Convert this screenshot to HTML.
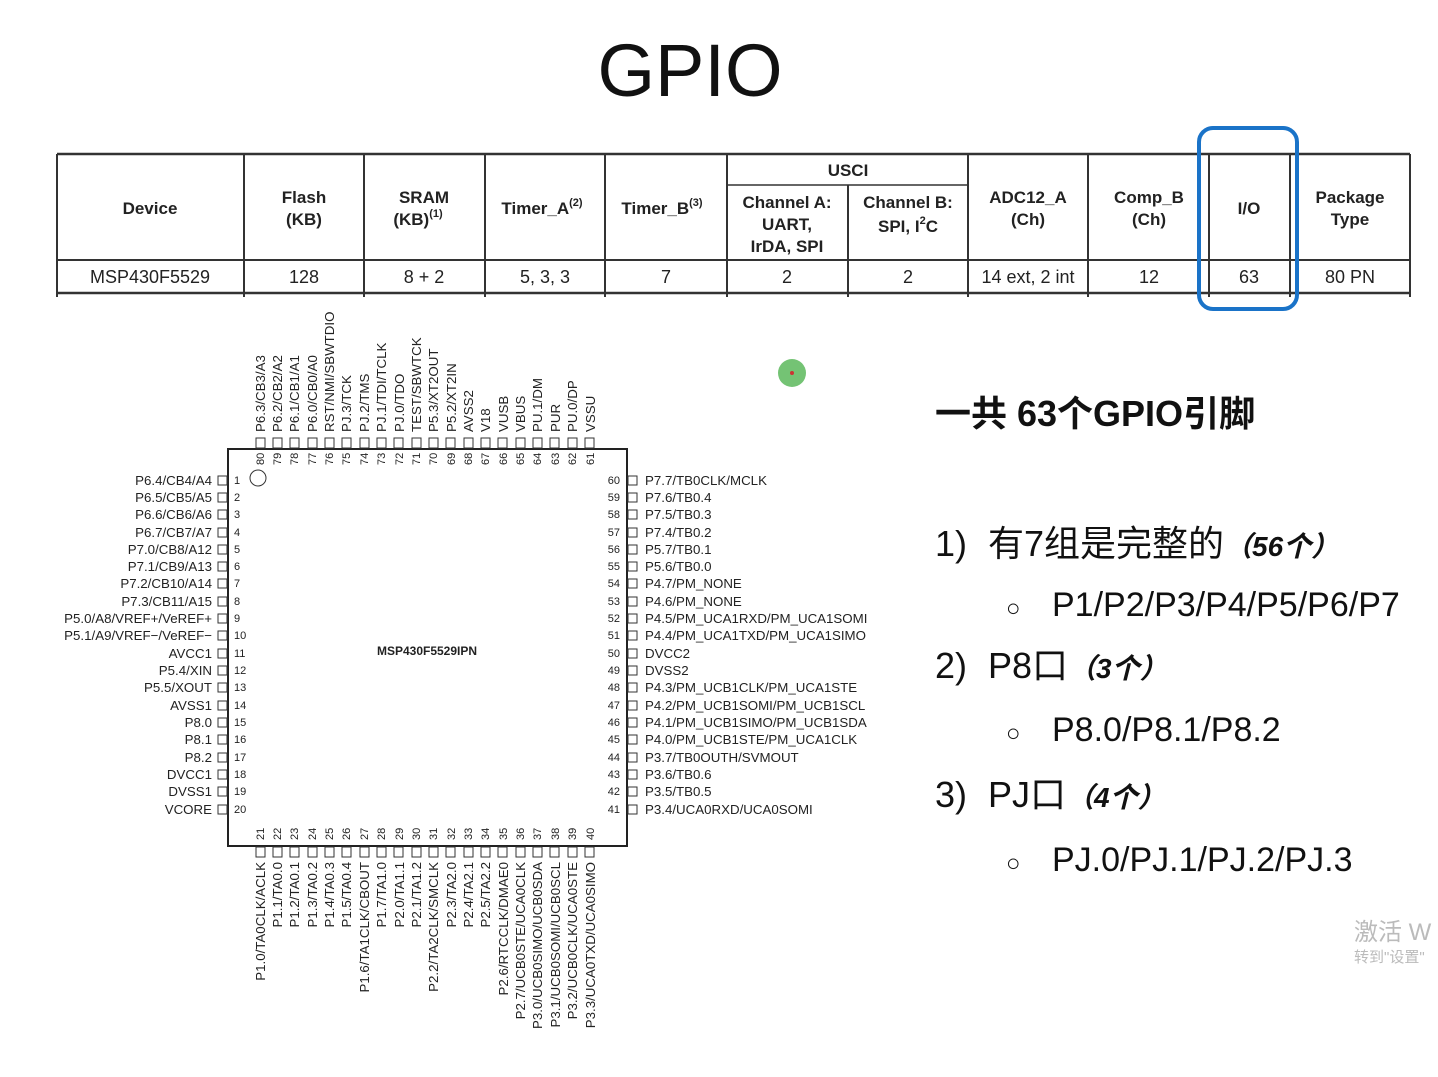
<!DOCTYPE html>
<html><head><meta charset="utf-8"><style>
html,body{margin:0;padding:0;background:#fff;}
svg{display:block;}
.p{font-family:"Liberation Sans",Arial,sans-serif;font-size:13.3px;fill:#222;}
.n{font-family:"Liberation Sans",Arial,sans-serif;font-size:11px;fill:#222;}
.t{font-family:"Liberation Sans",Arial,sans-serif;font-size:17px;fill:#222;font-weight:bold;}
.d{font-family:"Liberation Sans",Arial,sans-serif;font-size:18px;fill:#222;}
.cj{font-family:"Liberation Sans","Noto Sans CJK SC",sans-serif;fill:#111;}
</style></head><body>
<svg width="1438" height="1077" viewBox="0 0 1438 1077" xmlns="http://www.w3.org/2000/svg">
<rect width="1438" height="1077" fill="#fff"/>
<text x="690" y="96" text-anchor="middle" font-family="Liberation Sans,Arial,sans-serif" font-size="74" fill="#111">GPIO</text>

<g stroke="#333" fill="none">
<line x1="57" y1="154" x2="1410" y2="154" stroke-width="2.5"/>
<line x1="57" y1="260" x2="1410" y2="260" stroke-width="2"/>
<line x1="57" y1="293" x2="1410" y2="293" stroke-width="2.5"/>
<line x1="727" y1="185" x2="968" y2="185" stroke-width="1.5"/>
<g stroke-width="2">
<line x1="57" y1="154" x2="57" y2="297"/><line x1="244" y1="154" x2="244" y2="297"/>
<line x1="364" y1="154" x2="364" y2="297"/><line x1="485" y1="154" x2="485" y2="297"/>
<line x1="605" y1="154" x2="605" y2="297"/><line x1="727" y1="154" x2="727" y2="297"/>
<line x1="848" y1="185" x2="848" y2="297"/><line x1="968" y1="154" x2="968" y2="297"/>
<line x1="1088" y1="154" x2="1088" y2="297"/><line x1="1209" y1="154" x2="1209" y2="297"/>
<line x1="1290" y1="154" x2="1290" y2="297"/><line x1="1410" y1="154" x2="1410" y2="297"/>
</g></g>
<text class="t" x="150" y="214" text-anchor="middle">Device</text>
<text class="t" x="304" y="203" text-anchor="middle">Flash</text><text class="t" x="304" y="225" text-anchor="middle">(KB)</text>
<text class="t" x="424" y="203" text-anchor="middle">SRAM</text><text class="t" x="418" y="225" text-anchor="middle">(KB)<tspan font-size="11" dy="-8">(1)</tspan></text>
<text class="t" x="542" y="214" text-anchor="middle">Timer_A<tspan font-size="11" dy="-8">(2)</tspan></text>
<text class="t" x="662" y="214" text-anchor="middle">Timer_B<tspan font-size="11" dy="-8">(3)</tspan></text>
<text class="t" x="848" y="176" text-anchor="middle">USCI</text>
<text class="t" x="787" y="208" text-anchor="middle">Channel A:</text><text class="t" x="787" y="230" text-anchor="middle">UART,</text><text class="t" x="787" y="252" text-anchor="middle">IrDA, SPI</text>
<text class="t" x="908" y="208" text-anchor="middle">Channel B:</text><text class="t" x="908" y="232" text-anchor="middle">SPI, I<tspan font-size="11" dy="-8">2</tspan><tspan dy="8">C</tspan></text>
<text class="t" x="1028" y="203" text-anchor="middle">ADC12_A</text><text class="t" x="1028" y="225" text-anchor="middle">(Ch)</text>
<text class="t" x="1149" y="203" text-anchor="middle">Comp_B</text><text class="t" x="1149" y="225" text-anchor="middle">(Ch)</text>
<text class="t" x="1249" y="214" text-anchor="middle">I/O</text>
<text class="t" x="1350" y="203" text-anchor="middle">Package</text><text class="t" x="1350" y="225" text-anchor="middle">Type</text>
<g class="d" text-anchor="middle">
<text x="150" y="283">MSP430F5529</text><text x="304" y="283">128</text><text x="424" y="283">8 + 2</text>
<text x="545" y="283">5, 3, 3</text><text x="666" y="283">7</text><text x="787" y="283">2</text>
<text x="908" y="283">2</text><text x="1028" y="283">14 ext, 2 int</text><text x="1149" y="283">12</text>
<text x="1249" y="283">63</text><text x="1350" y="283">80 PN</text></g>
<rect x="1199" y="128" width="98" height="181" rx="14" fill="none" stroke="#1a73c8" stroke-width="4"/>

<circle cx="792" cy="373" r="14" fill="#5cb85c" opacity="0.85"/><circle cx="792" cy="373" r="2" fill="#c33"/>

<rect x="228" y="449" width="399" height="397" fill="none" stroke="#222" stroke-width="2"/>
<circle cx="258" cy="478" r="8" fill="none" stroke="#333"/>
<text x="427" y="655" text-anchor="middle" font-family="Liberation Sans,Arial,sans-serif" font-size="12" font-weight="bold" fill="#222">MSP430F5529IPN</text>
<g fill="#fff" stroke="#333" stroke-width="1">
<rect x="218" y="476" width="9" height="9"/><rect x="218" y="493" width="9" height="9"/><rect x="218" y="510" width="9" height="9"/><rect x="218" y="528" width="9" height="9"/><rect x="218" y="545" width="9" height="9"/><rect x="218" y="562" width="9" height="9"/><rect x="218" y="579" width="9" height="9"/><rect x="218" y="597" width="9" height="9"/><rect x="218" y="614" width="9" height="9"/><rect x="218" y="631" width="9" height="9"/><rect x="218" y="649" width="9" height="9"/><rect x="218" y="666" width="9" height="9"/><rect x="218" y="683" width="9" height="9"/><rect x="218" y="701" width="9" height="9"/><rect x="218" y="718" width="9" height="9"/><rect x="218" y="735" width="9" height="9"/><rect x="218" y="753" width="9" height="9"/><rect x="218" y="770" width="9" height="9"/><rect x="218" y="787" width="9" height="9"/><rect x="218" y="805" width="9" height="9"/>
<rect x="628" y="476" width="9" height="9"/><rect x="628" y="493" width="9" height="9"/><rect x="628" y="510" width="9" height="9"/><rect x="628" y="528" width="9" height="9"/><rect x="628" y="545" width="9" height="9"/><rect x="628" y="562" width="9" height="9"/><rect x="628" y="579" width="9" height="9"/><rect x="628" y="597" width="9" height="9"/><rect x="628" y="614" width="9" height="9"/><rect x="628" y="631" width="9" height="9"/><rect x="628" y="649" width="9" height="9"/><rect x="628" y="666" width="9" height="9"/><rect x="628" y="683" width="9" height="9"/><rect x="628" y="701" width="9" height="9"/><rect x="628" y="718" width="9" height="9"/><rect x="628" y="735" width="9" height="9"/><rect x="628" y="753" width="9" height="9"/><rect x="628" y="770" width="9" height="9"/><rect x="628" y="787" width="9" height="9"/><rect x="628" y="805" width="9" height="9"/>
<rect x="256" y="438" width="9" height="10"/><rect x="273" y="438" width="9" height="10"/><rect x="290" y="438" width="9" height="10"/><rect x="308" y="438" width="9" height="10"/><rect x="325" y="438" width="9" height="10"/><rect x="342" y="438" width="9" height="10"/><rect x="360" y="438" width="9" height="10"/><rect x="377" y="438" width="9" height="10"/><rect x="394" y="438" width="9" height="10"/><rect x="412" y="438" width="9" height="10"/><rect x="429" y="438" width="9" height="10"/><rect x="446" y="438" width="9" height="10"/><rect x="464" y="438" width="9" height="10"/><rect x="481" y="438" width="9" height="10"/><rect x="498" y="438" width="9" height="10"/><rect x="516" y="438" width="9" height="10"/><rect x="533" y="438" width="9" height="10"/><rect x="550" y="438" width="9" height="10"/><rect x="568" y="438" width="9" height="10"/><rect x="585" y="438" width="9" height="10"/>
<rect x="256" y="847" width="9" height="10"/><rect x="273" y="847" width="9" height="10"/><rect x="290" y="847" width="9" height="10"/><rect x="308" y="847" width="9" height="10"/><rect x="325" y="847" width="9" height="10"/><rect x="342" y="847" width="9" height="10"/><rect x="360" y="847" width="9" height="10"/><rect x="377" y="847" width="9" height="10"/><rect x="394" y="847" width="9" height="10"/><rect x="412" y="847" width="9" height="10"/><rect x="429" y="847" width="9" height="10"/><rect x="446" y="847" width="9" height="10"/><rect x="464" y="847" width="9" height="10"/><rect x="481" y="847" width="9" height="10"/><rect x="498" y="847" width="9" height="10"/><rect x="516" y="847" width="9" height="10"/><rect x="533" y="847" width="9" height="10"/><rect x="550" y="847" width="9" height="10"/><rect x="568" y="847" width="9" height="10"/><rect x="585" y="847" width="9" height="10"/>
</g>
<g class="p" text-anchor="end">
<text x="212" y="485">P6.4/CB4/A4</text><text x="212" y="502">P6.5/CB5/A5</text><text x="212" y="519">P6.6/CB6/A6</text><text x="212" y="537">P6.7/CB7/A7</text><text x="212" y="554">P7.0/CB8/A12</text><text x="212" y="571">P7.1/CB9/A13</text><text x="212" y="588">P7.2/CB10/A14</text><text x="212" y="606">P7.3/CB11/A15</text><text x="212" y="623">P5.0/A8/VREF+/VeREF+</text><text x="212" y="640">P5.1/A9/VREF−/VeREF−</text><text x="212" y="658">AVCC1</text><text x="212" y="675">P5.4/XIN</text><text x="212" y="692">P5.5/XOUT</text><text x="212" y="710">AVSS1</text><text x="212" y="727">P8.0</text><text x="212" y="744">P8.1</text><text x="212" y="762">P8.2</text><text x="212" y="779">DVCC1</text><text x="212" y="796">DVSS1</text><text x="212" y="814">VCORE</text>
</g>
<g class="n">
<text x="234" y="484">1</text><text x="234" y="501">2</text><text x="234" y="518">3</text><text x="234" y="536">4</text><text x="234" y="553">5</text><text x="234" y="570">6</text><text x="234" y="587">7</text><text x="234" y="605">8</text><text x="234" y="622">9</text><text x="234" y="639">10</text><text x="234" y="657">11</text><text x="234" y="674">12</text><text x="234" y="691">13</text><text x="234" y="709">14</text><text x="234" y="726">15</text><text x="234" y="743">16</text><text x="234" y="761">17</text><text x="234" y="778">18</text><text x="234" y="795">19</text><text x="234" y="813">20</text>
</g>
<g class="n" text-anchor="end">
<text x="620" y="484">60</text><text x="620" y="501">59</text><text x="620" y="518">58</text><text x="620" y="536">57</text><text x="620" y="553">56</text><text x="620" y="570">55</text><text x="620" y="587">54</text><text x="620" y="605">53</text><text x="620" y="622">52</text><text x="620" y="639">51</text><text x="620" y="657">50</text><text x="620" y="674">49</text><text x="620" y="691">48</text><text x="620" y="709">47</text><text x="620" y="726">46</text><text x="620" y="743">45</text><text x="620" y="761">44</text><text x="620" y="778">43</text><text x="620" y="795">42</text><text x="620" y="813">41</text>
</g>
<g class="p">
<text x="645" y="485">P7.7/TB0CLK/MCLK</text><text x="645" y="502">P7.6/TB0.4</text><text x="645" y="519">P7.5/TB0.3</text><text x="645" y="537">P7.4/TB0.2</text><text x="645" y="554">P5.7/TB0.1</text><text x="645" y="571">P5.6/TB0.0</text><text x="645" y="588">P4.7/PM_NONE</text><text x="645" y="606">P4.6/PM_NONE</text><text x="645" y="623">P4.5/PM_UCA1RXD/PM_UCA1SOMI</text><text x="645" y="640">P4.4/PM_UCA1TXD/PM_UCA1SIMO</text><text x="645" y="658">DVCC2</text><text x="645" y="675">DVSS2</text><text x="645" y="692">P4.3/PM_UCB1CLK/PM_UCA1STE</text><text x="645" y="710">P4.2/PM_UCB1SOMI/PM_UCB1SCL</text><text x="645" y="727">P4.1/PM_UCB1SIMO/PM_UCB1SDA</text><text x="645" y="744">P4.0/PM_UCB1STE/PM_UCA1CLK</text><text x="645" y="762">P3.7/TB0OUTH/SVMOUT</text><text x="645" y="779">P3.6/TB0.6</text><text x="645" y="796">P3.5/TB0.5</text><text x="645" y="814">P3.4/UCA0RXD/UCA0SOMI</text>
</g>
<g class="p">
<text transform="translate(265,432) rotate(-90)">P6.3/CB3/A3</text><text transform="translate(282,432) rotate(-90)">P6.2/CB2/A2</text><text transform="translate(299,432) rotate(-90)">P6.1/CB1/A1</text><text transform="translate(317,432) rotate(-90)">P6.0/CB0/A0</text><text transform="translate(334,432) rotate(-90)">RST/NMI/SBWTDIO</text><text transform="translate(351,432) rotate(-90)">PJ.3/TCK</text><text transform="translate(369,432) rotate(-90)">PJ.2/TMS</text><text transform="translate(386,432) rotate(-90)">PJ.1/TDI/TCLK</text><text transform="translate(404,432) rotate(-90)">PJ.0/TDO</text><text transform="translate(421,432) rotate(-90)">TEST/SBWTCK</text><text transform="translate(438,432) rotate(-90)">P5.3/XT2OUT</text><text transform="translate(456,432) rotate(-90)">P5.2/XT2IN</text><text transform="translate(473,432) rotate(-90)">AVSS2</text><text transform="translate(490,432) rotate(-90)">V18</text><text transform="translate(508,432) rotate(-90)">VUSB</text><text transform="translate(525,432) rotate(-90)">VBUS</text><text transform="translate(542,432) rotate(-90)">PU.1/DM</text><text transform="translate(560,432) rotate(-90)">PUR</text><text transform="translate(577,432) rotate(-90)">PU.0/DP</text><text transform="translate(595,432) rotate(-90)">VSSU</text>
</g>
<g class="n">
<text transform="translate(264,465) rotate(-90)">80</text><text transform="translate(281,465) rotate(-90)">79</text><text transform="translate(298,465) rotate(-90)">78</text><text transform="translate(316,465) rotate(-90)">77</text><text transform="translate(333,465) rotate(-90)">76</text><text transform="translate(350,465) rotate(-90)">75</text><text transform="translate(368,465) rotate(-90)">74</text><text transform="translate(385,465) rotate(-90)">73</text><text transform="translate(403,465) rotate(-90)">72</text><text transform="translate(420,465) rotate(-90)">71</text><text transform="translate(437,465) rotate(-90)">70</text><text transform="translate(455,465) rotate(-90)">69</text><text transform="translate(472,465) rotate(-90)">68</text><text transform="translate(489,465) rotate(-90)">67</text><text transform="translate(507,465) rotate(-90)">66</text><text transform="translate(524,465) rotate(-90)">65</text><text transform="translate(541,465) rotate(-90)">64</text><text transform="translate(559,465) rotate(-90)">63</text><text transform="translate(576,465) rotate(-90)">62</text><text transform="translate(594,465) rotate(-90)">61</text>
<text transform="translate(264,840) rotate(-90)">21</text><text transform="translate(281,840) rotate(-90)">22</text><text transform="translate(298,840) rotate(-90)">23</text><text transform="translate(316,840) rotate(-90)">24</text><text transform="translate(333,840) rotate(-90)">25</text><text transform="translate(350,840) rotate(-90)">26</text><text transform="translate(368,840) rotate(-90)">27</text><text transform="translate(385,840) rotate(-90)">28</text><text transform="translate(403,840) rotate(-90)">29</text><text transform="translate(420,840) rotate(-90)">30</text><text transform="translate(437,840) rotate(-90)">31</text><text transform="translate(455,840) rotate(-90)">32</text><text transform="translate(472,840) rotate(-90)">33</text><text transform="translate(489,840) rotate(-90)">34</text><text transform="translate(507,840) rotate(-90)">35</text><text transform="translate(524,840) rotate(-90)">36</text><text transform="translate(541,840) rotate(-90)">37</text><text transform="translate(559,840) rotate(-90)">38</text><text transform="translate(576,840) rotate(-90)">39</text><text transform="translate(594,840) rotate(-90)">40</text>
</g>
<g class="p" text-anchor="end">
<text transform="translate(265,862) rotate(-90)">P1.0/TA0CLK/ACLK</text><text transform="translate(282,862) rotate(-90)">P1.1/TA0.0</text><text transform="translate(299,862) rotate(-90)">P1.2/TA0.1</text><text transform="translate(317,862) rotate(-90)">P1.3/TA0.2</text><text transform="translate(334,862) rotate(-90)">P1.4/TA0.3</text><text transform="translate(351,862) rotate(-90)">P1.5/TA0.4</text><text transform="translate(369,862) rotate(-90)">P1.6/TA1CLK/CBOUT</text><text transform="translate(386,862) rotate(-90)">P1.7/TA1.0</text><text transform="translate(404,862) rotate(-90)">P2.0/TA1.1</text><text transform="translate(421,862) rotate(-90)">P2.1/TA1.2</text><text transform="translate(438,862) rotate(-90)">P2.2/TA2CLK/SMCLK</text><text transform="translate(456,862) rotate(-90)">P2.3/TA2.0</text><text transform="translate(473,862) rotate(-90)">P2.4/TA2.1</text><text transform="translate(490,862) rotate(-90)">P2.5/TA2.2</text><text transform="translate(508,862) rotate(-90)">P2.6/RTCCLK/DMAE0</text><text transform="translate(525,862) rotate(-90)">P2.7/UCB0STE/UCA0CLK</text><text transform="translate(542,862) rotate(-90)">P3.0/UCB0SIMO/UCB0SDA</text><text transform="translate(560,862) rotate(-90)">P3.1/UCB0SOMI/UCB0SCL</text><text transform="translate(577,862) rotate(-90)">P3.2/UCB0CLK/UCA0STE</text><text transform="translate(595,862) rotate(-90)">P3.3/UCA0TXD/UCA0SIMO</text>
</g>

<text class="cj" x="935" y="426" font-size="36" font-weight="bold">一共 63个GPIO引脚</text>
<text class="cj" x="935" y="556" font-size="36">1)</text><text class="cj" x="988" y="556" font-size="36">有7组是完整的<tspan font-size="28" font-style="italic" font-weight="bold">（56个）</tspan></text>
<text class="cj" x="1006" y="616" font-size="24">○</text><text class="cj" x="1052" y="616" font-size="34">P1/P2/P3/P4/P5/P6/P7</text>
<text class="cj" x="935" y="678" font-size="36">2)</text><text class="cj" x="988" y="678" font-size="36">P8口<tspan font-size="28" font-style="italic" font-weight="bold">（3个）</tspan></text>
<text class="cj" x="1006" y="741" font-size="24">○</text><text class="cj" x="1052" y="741" font-size="34">P8.0/P8.1/P8.2</text>
<text class="cj" x="935" y="807" font-size="36">3)</text><text class="cj" x="988" y="807" font-size="36">PJ口<tspan font-size="28" font-style="italic" font-weight="bold">（4个）</tspan></text>
<text class="cj" x="1006" y="871" font-size="24">○</text><text class="cj" x="1052" y="871" font-size="34">PJ.0/PJ.1/PJ.2/PJ.3</text>

<text x="1354" y="940" font-family="Liberation Sans,Noto Sans CJK SC,sans-serif" font-size="24" fill="#bbb">激活 W</text>
<text x="1354" y="962" font-family="Liberation Sans,Noto Sans CJK SC,sans-serif" font-size="15" fill="#bbb">转到"设置"</text>
</svg>
</body></html>
